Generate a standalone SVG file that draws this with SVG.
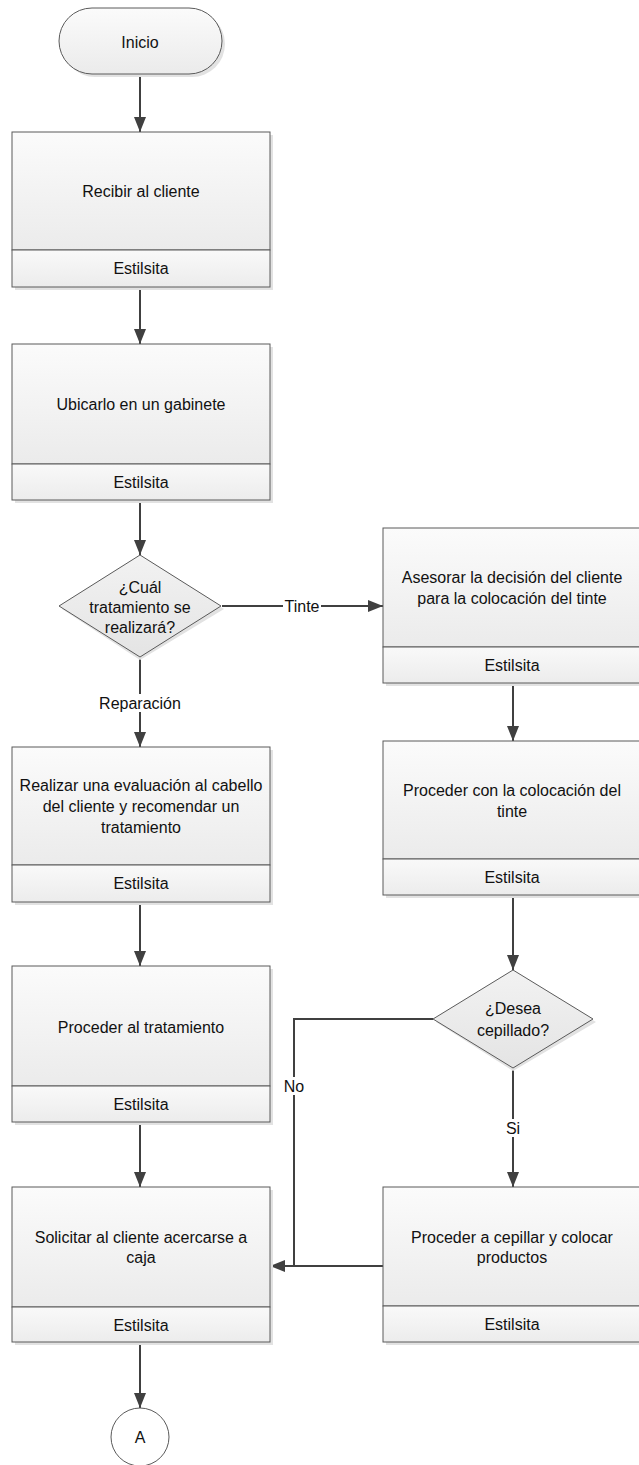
<svg xmlns="http://www.w3.org/2000/svg" width="639" height="1465" viewBox="0 0 639 1465">
<style>
text{font-family:"Liberation Sans",Arial,sans-serif;font-size:16px;fill:#111;text-anchor:middle;dominant-baseline:central}
.main{fill:url(#gm);stroke:#5a5a5a;stroke-width:1}
.lane{fill:url(#gl);stroke:#5a5a5a;stroke-width:1}
.sh{fill:#e2e2e2}
.dec{fill:url(#gd);stroke:#5a5a5a;stroke-width:1}
.con{fill:none;stroke:#404040;stroke-width:2}
.lbl{fill:#fff}
</style>
<defs>
<linearGradient id="gm" x1="0" y1="0" x2="0" y2="1"><stop offset="0" stop-color="#fbfbfb"/><stop offset="1" stop-color="#ebebeb"/></linearGradient>
<linearGradient id="gl" x1="0" y1="0" x2="0" y2="1"><stop offset="0" stop-color="#f9f9f9"/><stop offset="1" stop-color="#ececec"/></linearGradient>
<linearGradient id="gd" x1="0" y1="0" x2="0" y2="1"><stop offset="0" stop-color="#f2f2f2"/><stop offset="1" stop-color="#e4e4e4"/></linearGradient>
<marker id="ah" markerWidth="15" markerHeight="12" refX="15" refY="6" orient="auto" markerUnits="userSpaceOnUse"><path d="M0,0 L15,6 L0,12 Z" fill="#404040"/></marker>
</defs>

<g id="connectors">
<line class="con" x1="140" y1="74" x2="140" y2="132" marker-end="url(#ah)"/>
<line class="con" x1="140" y1="287" x2="140" y2="344" marker-end="url(#ah)"/>
<line class="con" x1="140" y1="500" x2="140" y2="555" marker-end="url(#ah)"/>
<line class="con" x1="222" y1="606" x2="383" y2="606" marker-end="url(#ah)"/>
<line class="con" x1="140" y1="657" x2="140" y2="747" marker-end="url(#ah)"/>
<line class="con" x1="140" y1="902" x2="140" y2="966" marker-end="url(#ah)"/>
<line class="con" x1="140" y1="1122" x2="140" y2="1187" marker-end="url(#ah)"/>
<line class="con" x1="513" y1="683" x2="513" y2="741" marker-end="url(#ah)"/>
<line class="con" x1="513" y1="895" x2="513" y2="970" marker-end="url(#ah)"/>
<line class="con" x1="513" y1="1068" x2="513" y2="1187" marker-end="url(#ah)"/>
<polyline class="con" points="433,1019 294,1019 294,1266 270,1266" marker-end="url(#ah)"/>
<line class="con" x1="383" y1="1266" x2="285" y2="1266"/>
<line class="con" x1="140" y1="1342" x2="140" y2="1408" marker-end="url(#ah)"/>
<rect class="lbl" x="283" y="597" width="38" height="18"/>
<text x="302" y="606">Tinte</text>
<rect class="lbl" x="98" y="694" width="84" height="18"/>
<text x="140" y="703">Reparación</text>
<rect class="lbl" x="282" y="1077" width="24" height="18"/>
<text x="294" y="1086">No</text>
<rect class="lbl" x="505" y="1119" width="16" height="18"/>
<text x="513" y="1128">Si</text>
</g>

<g id="inicio">
<rect x="62" y="11" width="163" height="66" rx="33" class="sh"/>
<rect x="59" y="8" width="163" height="66" rx="33" class="main"/>
<text x="140" y="42">Inicio</text>
</g>

<g id="recibir">
<rect x="15" y="135" width="258" height="155" class="sh"/>
<rect x="12" y="132" width="258" height="118" class="main"/>
<rect x="12" y="250" width="258" height="37" class="lane"/>
<text x="141" y="191">Recibir al cliente</text>
<text x="141" y="268.5">Estilsita</text>
</g>

<g id="ubicarlo">
<rect x="15" y="347" width="258" height="156" class="sh"/>
<rect x="12" y="344" width="258" height="120" class="main"/>
<rect x="12" y="464" width="258" height="36" class="lane"/>
<text x="141" y="404">Ubicarlo en un gabinete</text>
<text x="141" y="482">Estilsita</text>
</g>

<g id="decision1">
<polygon points="140,558 224,609 140,660 62,609" class="sh"/>
<polygon points="140,555 221,606 140,657 59,606" class="dec"/>
<text x="140" y="587">¿Cuál</text>
<text x="140" y="607">tratamiento se</text>
<text x="140" y="627">realizará?</text>
</g>

<g id="asesorar">
<rect x="386" y="531" width="258" height="155" class="sh"/>
<rect x="383" y="528" width="258" height="119" class="main"/>
<rect x="383" y="647" width="258" height="36" class="lane"/>
<text x="512" y="577">Asesorar la decisión del cliente</text>
<text x="512" y="598">para la colocación del tinte</text>
<text x="512" y="665">Estilsita</text>
</g>

<g id="proceder-tinte">
<rect x="386" y="744" width="258" height="154" class="sh"/>
<rect x="383" y="741" width="258" height="118" class="main"/>
<rect x="383" y="859" width="258" height="36" class="lane"/>
<text x="512" y="790">Proceder con la colocación del</text>
<text x="512" y="811">tinte</text>
<text x="512" y="877">Estilsita</text>
</g>

<g id="realizar">
<rect x="15" y="750" width="258" height="155" class="sh"/>
<rect x="12" y="747" width="258" height="118" class="main"/>
<rect x="12" y="865" width="258" height="37" class="lane"/>
<text x="141" y="785">Realizar una evaluación al cabello</text>
<text x="141" y="806">del cliente y recomendar un</text>
<text x="141" y="827">tratamiento</text>
<text x="141" y="883.5">Estilsita</text>
</g>

<g id="proceder-tratamiento">
<rect x="15" y="969" width="258" height="156" class="sh"/>
<rect x="12" y="966" width="258" height="120" class="main"/>
<rect x="12" y="1086" width="258" height="36" class="lane"/>
<text x="141" y="1027">Proceder al tratamiento</text>
<text x="141" y="1104">Estilsita</text>
</g>

<g id="decision2">
<polygon points="513,973 596,1022 513,1071 436,1022" class="sh"/>
<polygon points="513,970 593,1019 513,1068 433,1019" class="dec"/>
<text x="513" y="1008">¿Desea</text>
<text x="513" y="1030">cepillado?</text>
</g>

<g id="cepillar">
<rect x="386" y="1190" width="258" height="155" class="sh"/>
<rect x="383" y="1187" width="258" height="119" class="main"/>
<rect x="383" y="1306" width="258" height="36" class="lane"/>
<text x="512" y="1237">Proceder a cepillar y colocar</text>
<text x="512" y="1257">productos</text>
<text x="512" y="1324">Estilsita</text>
</g>

<g id="solicitar">
<rect x="15" y="1190" width="258" height="155" class="sh"/>
<rect x="12" y="1187" width="258" height="120" class="main"/>
<rect x="12" y="1307" width="258" height="35" class="lane"/>
<text x="141" y="1237">Solicitar al cliente acercarse a</text>
<text x="141" y="1257">caja</text>
<text x="141" y="1325">Estilsita</text>
</g>

<g id="conector-a">
<circle cx="140" cy="1437" r="29" fill="#fff" stroke="#5a5a5a" stroke-width="1"/>
<text x="140" y="1437">A</text>
</g>
</svg>
